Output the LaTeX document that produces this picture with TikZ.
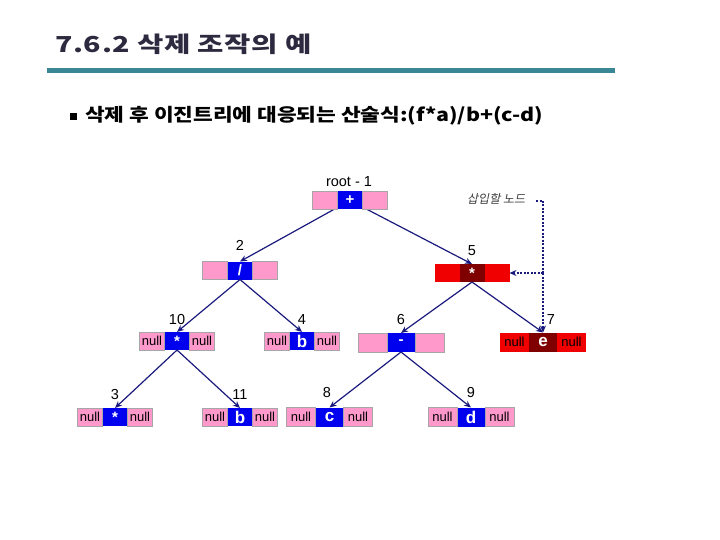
\documentclass[tikz,border=0pt]{standalone}
\usepackage{fontspec}
\setmainfont{Liberation Sans}
\newfontfamily\kr{Noto Sans CJK KR}
\newfontfamily\krtitle{Noto Sans CJK KR}[FakeStretch=1.3, LetterSpace=3]
\newfontfamily\krsub{Noto Sans CJK KR}[FakeStretch=1.19]
\newfontfamily\krit{Noto Sans CJK KR}[FakeSlant=0.2]
\usetikzlibrary{arrows.meta}
\definecolor{pinkc}{HTML}{FF99CC}
\definecolor{bluec}{HTML}{0000EE}
\definecolor{redc}{HTML}{F00000}
\definecolor{dredc}{HTML}{800000}
\definecolor{edgec}{HTML}{1A1A7E}
\definecolor{tealbar}{HTML}{3B8796}
\definecolor{titlec}{HTML}{2D2A40}
\pgfdeclarelayer{background}
\pgfsetlayers{background,main}
\tikzset{
  sec/.style={inner sep=0pt, outer sep=0pt, minimum height=18pt},
  mid/.style={sec, text=white, font=\fontsize{15}{15}\selectfont\bfseries},
  letter/.style={font=\fontsize{17}{17}\selectfont\bfseries},
  side/.style={sec, font=\fontsize{13}{13}\selectfont},
  pinks/.style={side, fill=pinkc, draw=black!35, line width=0.4pt},
  reds/.style={side, fill=redc},
  lab/.style={font=\fontsize{14.5}{14.5}\selectfont, inner sep=0pt},
  edge/.style={draw=edgec, line width=1.2pt, -{Stealth[length=7pt,width=6pt]}},
  dashedge/.style={draw=edgec, line width=1.2pt, dash pattern=on 2pt off 1.5pt},
}
\begin{document}
\begin{tikzpicture}[x=1pt,y=-1pt]
\useasboundingbox (0,0) rectangle (720,540);
% title
\node[anchor=west, inner sep=0pt, text=titlec] (title) at (55,44) {\krtitle\bfseries\fontsize{22}{22}\selectfont 7.6.2 삭제 조작의 예};
\fill[tealbar] (47,68) rectangle (615,73);
% bullet
\node[fill=black, minimum size=7pt, inner sep=0pt] (bul) at (73.5,116.5) {};
\node[anchor=west, inner sep=0pt] (sub) at (85,116) {\krsub\bfseries\fontsize{18}{18}\selectfont 삭제 후 이진트리에 대응되는 산술식:(f*a)/b+(c-d)};

% root
\node[mid, fill=bluec, minimum width=25pt] (root) at (350,200.5) {+};
\node[pinks, minimum width=25pt, anchor=east] (rootl) at (root.west) {};
\node[pinks, minimum width=25pt, anchor=west] (rootr) at (root.east) {};
\node[lab] (lroot) at (349,182) {root - 1};
% node 2
\node[mid, fill=bluec, minimum width=25pt] (n2) at (240,270.5) {/};
\node[pinks, minimum width=25pt, anchor=east] (n2l) at (n2.west) {};
\node[pinks, minimum width=25pt, anchor=west] (n2r) at (n2.east) {};
\node[lab] (l2) at (240,245) {2};
% node 5
\node[mid, fill=dredc, minimum width=25pt] (n5) at (472,273) {*};
\node[reds, minimum width=25pt, anchor=east] (n5l) at (n5.west) {};
\node[reds, minimum width=25pt, anchor=west] (n5r) at (n5.east) {};
\node[lab] (l5) at (472,251) {5};
% node 10
\node[mid, fill=bluec, minimum width=25pt] (n10) at (177,341) {*};
\node[pinks, minimum width=25pt, anchor=east] (n10l) at (n10.west) {null};
\node[pinks, minimum width=25pt, anchor=west] (n10r) at (n10.east) {null};
\node[lab] (l10) at (177,320) {10};
% node 4
\node[mid, letter, fill=bluec, minimum width=25pt] (n4) at (302,341) {b};
\node[pinks, minimum width=25pt, anchor=east] (n4l) at (n4.west) {null};
\node[pinks, minimum width=25pt, anchor=west] (n4r) at (n4.east) {null};
\node[lab] (l4) at (302,320) {4};
% node 6
\node[mid, fill=bluec, minimum width=28pt, minimum height=19pt] (n6) at (401,342.5) {-};
\node[pinks, minimum width=29pt, minimum height=19pt, anchor=east] (n6l) at (n6.west) {};
\node[pinks, minimum width=29pt, minimum height=19pt, anchor=west] (n6r) at (n6.east) {};
\node[lab] (l6) at (401,320) {6};
% node 7
\node[mid, letter, fill=dredc, minimum width=28pt, minimum height=19pt] (n7) at (543,342) {e};
\node[reds, minimum width=29pt, minimum height=19pt, anchor=east] (n7l) at (n7.west) {null};
\node[reds, minimum width=29pt, minimum height=19pt, anchor=west] (n7r) at (n7.east) {null};
\node[lab] (l7) at (551,320) {7};
% node 3
\node[mid, fill=bluec, minimum width=25pt] (n3) at (115,417) {*};
\node[pinks, minimum width=25pt, anchor=east] (n3l) at (n3.west) {null};
\node[pinks, minimum width=25pt, anchor=west] (n3r) at (n3.east) {null};
\node[lab] (l3) at (115,395) {3};
% node 11
\node[mid, letter, fill=bluec, minimum width=25pt] (n11) at (240,417) {b};
\node[pinks, minimum width=25pt, anchor=east] (n11l) at (n11.west) {null};
\node[pinks, minimum width=25pt, anchor=west] (n11r) at (n11.east) {null};
\node[lab] (l11) at (240,395) {11};
% node 8
\node[mid, letter, fill=bluec, minimum width=28pt, minimum height=19pt] (n8) at (329.5,417) {c};
\node[pinks, minimum width=29pt, minimum height=19pt, anchor=east] (n8l) at (n8.west) {null};
\node[pinks, minimum width=29pt, minimum height=19pt, anchor=west] (n8r) at (n8.east) {null};
\node[lab] (l8) at (327,393) {8};
% node 9
\node[mid, letter, fill=bluec, minimum width=28pt, minimum height=19pt] (n9) at (471,417) {d};
\node[pinks, minimum width=29pt, minimum height=19pt, anchor=east] (n9l) at (n9.west) {null};
\node[pinks, minimum width=29pt, minimum height=19pt, anchor=west] (n9r) at (n9.east) {null};
\node[lab] (l9) at (471,393) {9};

% edges
\begin{pgfonlayer}{background}
\draw[edge] (root.center) -- (n2.north);
\draw[edge] (root.center) -- (n5.north);
\end{pgfonlayer}
\draw[edge] (n2.south) -- (n10.north);
\draw[edge] (n2.south) -- (n4.north);
\draw[edge] (n5.south) -- (n6.north);
\draw[edge] (n5.south) -- (n7.north);
\draw[edge] (n10.south) -- (n3.north);
\draw[edge] (n10.south) -- (n11.north);
\draw[edge] (n6.south) -- (n8.north);
\draw[edge] (n6.south) -- (n9.north);

% insertion note
\node[anchor=west, inner sep=0pt, text=black!75] (ins) at (467,199) {\krit\fontsize{12}{12}\selectfont 삽입할 노드};
\coordinate (d0) at (536,201);
\coordinate (d1) at (543,201);
\coordinate (d2) at (543,273);
\draw[dashedge] (d0) -- (d1) -- (d2);
\draw[dashedge, -{Stealth[length=7pt,width=6pt]}] (d2) -- (n7.north);
\draw[dashedge, -{Stealth[length=7pt,width=6pt]}] (d2) -- (n5r.east);
\end{tikzpicture}
\end{document}
